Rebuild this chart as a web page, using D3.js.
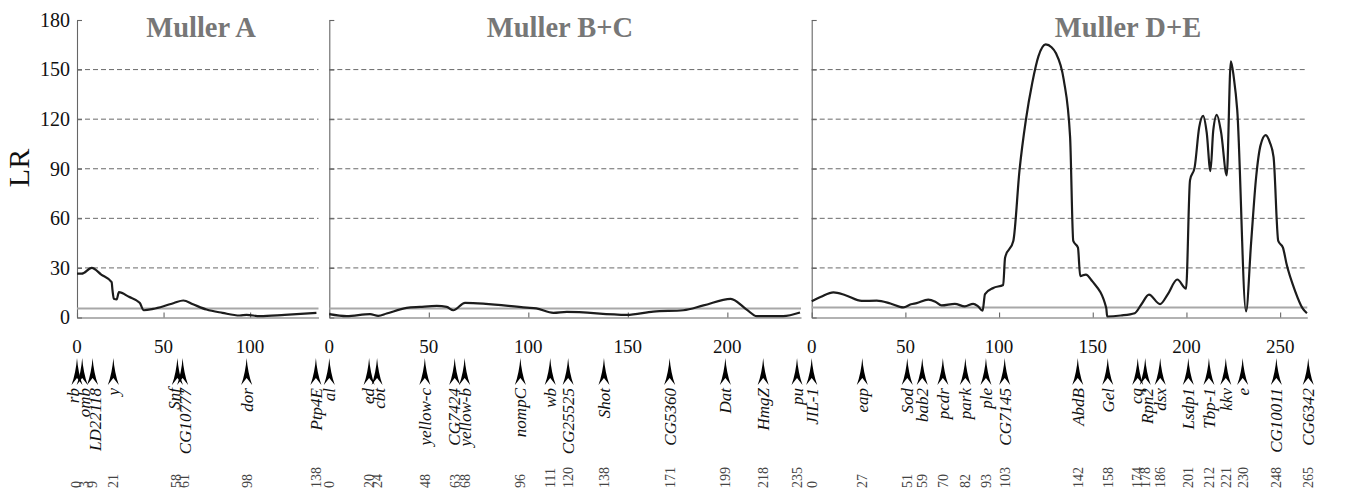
<!DOCTYPE html>
<html>
<head>
<meta charset="utf-8">
<script src="https://cdn.jsdelivr.net/npm/d3@7"></script>
<style>
body { margin: 0; background: #fff; }
svg { display: block; }
svg text { font-family: "Liberation Serif", "Times New Roman", serif; }
</style>
</head>
<body>
<svg id="chart" width="1355" height="496"></svg>
<script>
// panels and axes
var panelNames = ["Muller A", "Muller B+C", "Muller D+E"];
var panelLengths = [139.5, 237, 264.5];
var xTicks = [[0, 50, 100], [0, 50, 100, 150, 200], [0, 50, 100, 150, 200, 250]];
var yTicks = [0, 30, 60, 90, 120, 150, 180];
var thresholds = [5.5, 5.5, 6];

// LR profile (position, LR)
var posA = [0, 2.7, 8.5, 14, 20, 20.5, 21.3, 22.9, 24.2, 30, 36.2, 38.6, 44, 50, 56, 61.4, 67, 74.8, 84, 94, 98, 105.6, 120, 138.3];
var lrA  = [26.5, 26.5, 30, 26, 21.4, 16.5, 11.3, 10.9, 15.3, 12.5, 8.9, 4.4, 5.2, 6.8, 8.8, 10.3, 8, 4.8, 2.8, 1.2, 1.6, 0.8, 1.6, 2.8];

var posB = [0, 8.7, 20.5, 24.6, 28.8, 38.9, 45.6, 54, 59, 62.3, 68.2, 99.2, 104, 112.6, 119.3, 149.4, 162.8, 177.9, 188, 201.7, 209.7, 214.8, 228, 236.5];
var lrB  = [2, 0.8, 2, 1, 2.4, 5.8, 6.4, 7, 6.4, 4.4, 8.9, 6, 5.5, 2.8, 3.4, 1.6, 3.6, 4.4, 7.3, 11.3, 4.8, 0.8, 0.8, 3];

var posC = [0, 5, 11.6, 18, 26.7, 34.7, 42, 48.9, 53, 56, 62.2, 66, 69.3, 76.4, 81.7, 86.2, 88.8, 91.2, 92.5, 96.9, 102.2,
            103.2, 107.6, 110.9, 114.3, 117.7, 121, 124.9, 128, 130.3, 134.5, 137.9, 139.6, 142.1, 143.3, 146.3, 149.7,
            157.2, 157.7, 165, 172.4, 176, 180, 185.9, 190, 195.1, 199.8, 201.9, 204.4, 206.8, 208.9, 210.8, 212.8,
            214.3, 216.2, 218.5, 221.5, 223.7, 225.3, 227.1, 231.8, 234.5, 237.2, 239.5, 242.3, 244.5, 246.5, 249,
            251.5, 253.5, 258, 262, 264.3];
var lrC  = [9.8, 12.5, 15.2, 13.5, 10, 10.2, 8.5, 6.1, 8, 8.7, 10.8, 9.5, 7.3, 8.3, 6.7, 8.3, 6.7, 4.1, 14.2, 17.9, 19.7,
            36.2, 46.3, 89, 119.5, 141.9, 158, 165.2, 163.5, 160, 143.9, 109.3, 46.3, 42.3, 25, 26, 22,
            5.7, 0.6, 1.2, 2.6, 8, 13.8, 8.1, 14, 23, 17.5, 83, 91, 115, 122, 112, 88.6,
            113, 122.6, 112, 86, 155, 145, 125.6, 3.7, 45, 85, 104, 110.4, 106, 97, 46.3,
            42.3, 32, 16, 5.5, 2.6];

// genes under each panel
var genesA = ["rb", "omb", "LD22118", "y", "Snf", "CG10777", "dor", "Ptp4E"];
var genePosA = [0, 3, 9, 21, 58, 61, 98, 138];
var genesB = ["al", "ed", "cbt", "yellow-c", "CG7424", "yellow-b", "nompC", "wb", "CG25525", "Shot", "CG5360", "Dat", "HmgZ", "pu"];
var genePosB = [0, 20, 24, 48, 63, 68, 96, 111, 120, 138, 171, 199, 218, 235];
var genesC = ["JIL-1", "eap", "Sod", "bab2", "pcdr", "park", "ple", "CG7145", "AbdB", "Gel", "cq", "Rpn2", "dsx", "Lsdp1", "Tbp-1", "kkv", "e", "CG10011", "CG6342"];
var genePosC = [0, 27, 51, 59, 70, 82, 93, 103, 142, 158, 174, 178, 186, 201, 212, 221, 230, 248, 265];

var svg = d3.select("#chart");

var y = d3.scaleLinear().domain([0, 180]).range([317.5, 20]);
var xScales = [
    d3.scaleLinear().domain([0, panelLengths[0]]).range([77, 318.5]),
    d3.scaleLinear().domain([0, panelLengths[1]]).range([329.3, 801]),
    d3.scaleLinear().domain([0, panelLengths[2]]).range([811.7, 1307.3])
];
var titleX = [201, 560, 1128];
var curves = [[posA, lrA], [posB, lrB], [posC, lrC]];
var genes = [[genesA, genePosA], [genesB, genePosB], [genesC, genePosC]];

// spread labels that would sit on top of each other
function dodge(xs, gap) {
    var clusters = [];
    xs.forEach(function(x) {
        clusters.push({sum: x, n: 1, start: x});
        while (clusters.length > 1) {
            var a = clusters[clusters.length - 2], b = clusters[clusters.length - 1];
            if (a.start + a.n * gap > b.start) {
                a.sum += b.sum; a.n += b.n;
                a.start = a.sum / a.n - (a.n - 1) * gap / 2;
                clusters.pop();
            } else break;
        }
    });
    var out = [];
    clusters.forEach(function(c) {
        for (var i = 0; i < c.n; i++) out.push(c.start + i * gap);
    });
    return out;
}

svg.append("text")
    .attr("transform", "translate(29,168) rotate(-90)")
    .attr("text-anchor", "middle")
    .style("font-size", "30px")
    .attr("fill", "#111")
    .text("LR");

var allGenes = [];

panelNames.forEach(function(name, i) {
    var x = xScales[i];
    var g = svg.append("g");
    var x0 = x.range()[0], x1 = x.range()[1];

    // dashed grid
    g.selectAll(".grid")
        .data(yTicks.filter(function(t) { return t > 0 && t < 180; }))
        .enter().append("line")
        .attr("x1", x0).attr("x2", x1)
        .attr("y1", function(d) { return y(d); })
        .attr("y2", function(d) { return y(d); })
        .attr("stroke", "#6a6a6a")
        .attr("stroke-width", 1)
        .attr("stroke-dasharray", "5,3");

    var yAxis = g.append("g")
        .attr("transform", "translate(" + x0 + ",0)")
        .call(d3.axisLeft(y).tickValues(yTicks).tickSizeInner(-5).tickSizeOuter(0).tickPadding(7)
            .tickFormat(i === 0 ? d3.format("d") : ""));
    yAxis.selectAll("path, line").attr("stroke", "#666").attr("stroke-width", 1.1);
    yAxis.selectAll("text")
        .style("font-size", "20px")
        .style("font-family", "'Liberation Serif', serif")
        .attr("fill", "#111");

    var xAxis = g.append("g")
        .attr("transform", "translate(0," + y(0) + ")")
        .call(d3.axisBottom(x).tickValues(xTicks[i]).tickSizeInner(-5).tickSizeOuter(0).tickFormat(""));
    xAxis.selectAll("path, line").attr("stroke", "#666").attr("stroke-width", 1.1);

    g.selectAll(".xlab")
        .data(xTicks[i])
        .enter().append("text")
        .attr("x", function(d) { return x(d); })
        .attr("y", 353)
        .attr("text-anchor", "middle")
        .style("font-size", "19px")
        .attr("fill", "#111")
        .text(function(d) { return d; });

    // significance threshold
    g.append("line")
        .attr("x1", x0).attr("x2", x1)
        .attr("y1", y(thresholds[i])).attr("y2", y(thresholds[i]))
        .attr("stroke", "#a8a8a8")
        .attr("stroke-width", 2);

    var pts = curves[i][0].map(function(p, k) { return [p, curves[i][1][k]]; });
    g.append("path")
        .datum(pts)
        .attr("fill", "none")
        .attr("stroke", "#1c1c1c")
        .attr("stroke-width", 2.2)
        .attr("d", d3.line()
            .x(function(d) { return x(d[0]); })
            .y(function(d) { return y(d[1]); })
            .curve(d3.curveMonotoneX));

    g.append("text")
        .attr("x", titleX[i])
        .attr("y", 37)
        .attr("text-anchor", "middle")
        .style("font-size", "28.5px")
        .style("font-weight", "bold")
        .attr("fill", "#777")
        .text(name);

    genes[i][0].forEach(function(gn, k) {
        allGenes.push({name: gn, pos: genes[i][1][k], px: x(genes[i][1][k])});
    });
});

// arrowheads
svg.selectAll(".arrow")
    .data(allGenes)
    .enter().append("path")
    .attr("transform", function(d) { return "translate(" + d.px + ",358)"; })
    .attr("d", "M0,0 Q1.2,15 5.5,27 L0,20 L-5.5,27 Q-1.2,15 0,0Z")
    .attr("fill", "#000");

var nameX = dodge(allGenes.map(function(d) { return d.px; }), 11);
var numX = dodge(allGenes.map(function(d) { return d.px; }), 8);

svg.selectAll(".gname")
    .data(allGenes)
    .enter().append("text")
    .attr("transform", function(d, k) { return "translate(" + nameX[k] + ",388) rotate(-90)"; })
    .attr("dy", "0.35em")
    .attr("text-anchor", "end")
    .style("font-size", "17px")
    .style("font-style", "italic")
    .attr("fill", "#111")
    .text(function(d) { return d.name; });

svg.selectAll(".gpos")
    .data(allGenes)
    .enter().append("text")
    .attr("transform", function(d, k) { return "translate(" + numX[k] + ",488) rotate(-90)"; })
    .attr("dy", "0.35em")
    .attr("text-anchor", "start")
    .style("font-size", "14px")
    .attr("fill", "#444")
    .text(function(d) { return d.pos; });
</script>
</body>
</html>
